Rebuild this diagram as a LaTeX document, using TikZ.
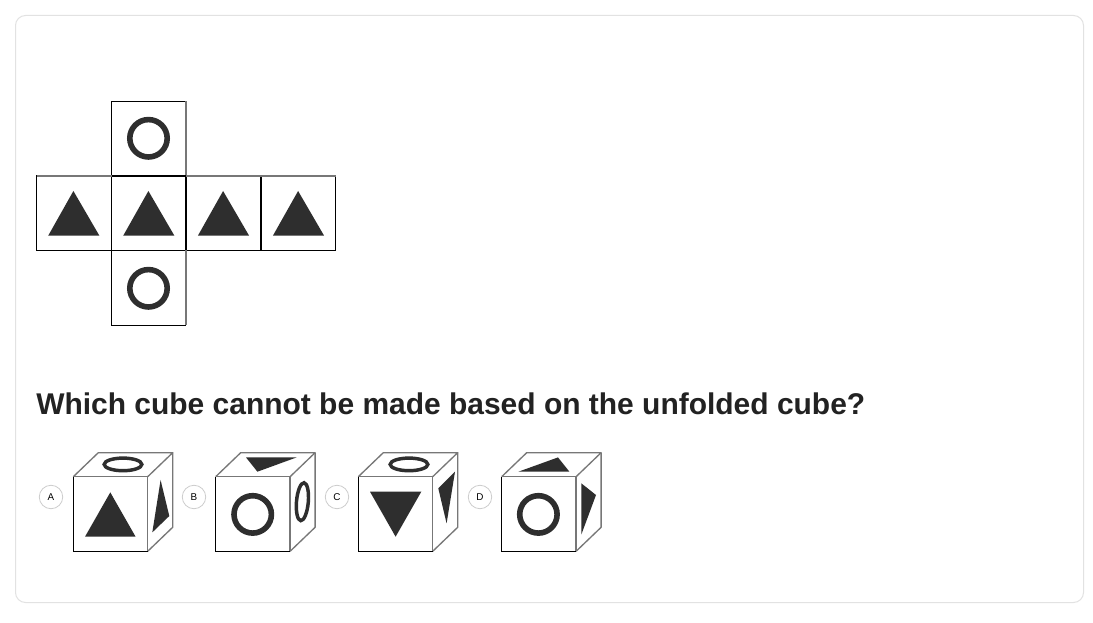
\documentclass[tikz,border=0pt]{standalone}
\usepackage{fontspec}
\setmainfont{Liberation Sans}
\definecolor{ink}{HTML}{2E2E2E}
\definecolor{edgegray}{HTML}{777777}
\definecolor{cardline}{HTML}{E2E2E2}
\definecolor{badge}{HTML}{CCCCCC}
\definecolor{titleink}{HTML}{222222}
\tikzset{
  card/.style={draw=cardline,line width=0.75pt,rounded corners=7.5pt,fill=white},
  netface/.style={draw=black,line width=0.8pt,fill=none},
  softline/.style={draw=edgegray,line width=1pt},
  solid shape/.style={fill=ink,draw=none},
  ring/.style={draw=ink,line width=4.2pt,fill=none},
  thin ring/.style={draw=ink,line width=2.6pt,fill=none},
  frontface/.style={draw=black,line width=0.9pt,fill=white},
  badgenode/.style={circle,draw=badge,line width=0.6pt,fill=white,minimum size=17.6pt,inner sep=0pt,font=\fontsize{7.4pt}{8pt}\selectfont,text=black},
  titletext/.style={anchor=base west,inner sep=0pt,text=titleink,font=\fontsize{22.47pt}{26pt}\selectfont\bfseries}
}
\newcommand{\cubeframe}{%
  \draw[softline,line join=round] (0,0) -- (25,-24) -- (99.4,-24) -- (74.4,0);
  \draw[softline,line join=round] (99.4,-24) -- (99.4,50.6) -- (74.4,74.6);
  \draw[softline] (74.4,0) -- (74.4,74.6);
  \draw[frontface,fill=none] (74.4,74.6) -- (0,74.6) -- (0,0);
  \draw[draw=edgegray,line width=1.1pt] (0,0) -- (74.4,0);
}
\begin{document}
\begin{tikzpicture}[x=0.75pt,y=-0.75pt]
\useasboundingbox (0,0) rectangle (1093,623);
\fill[white] (0,0) rectangle (1093,623);
\draw[card] (15.5,15.5) rectangle (1083.5,602.5);

% unfolded cube
\draw[netface] (111.5,101.5) -- (111.5,176) (111.5,101.5) -- (186,101.5);
\draw[softline] (186,101.5) -- (186,176);
\draw[netface] (36.5,176) rectangle (111.5,250.5);
\draw[netface] (111.5,176) rectangle (186,250.5);
\draw[netface] (186,250.5) -- (261,250.5);
\draw[netface] (261,176) -- (261,250.5) -- (335.5,250.5) -- (335.5,176);
\draw[netface] (111.5,250.5) -- (111.5,325.5) -- (186,325.5);
\draw[softline] (186,250.5) -- (186,325.5);
\draw[softline] (36.5,176) -- (111.5,176) (186,176) -- (335.5,176);
\foreach \ox in {0,75,149.7,224.7}{
  \fill[solid shape] (73.4+\ox,191) -- (99.4+\ox,235.7) -- (48.2+\ox,235.7) -- cycle;
}
\draw[ring] (148.5,138.3) circle[radius=18.7];
\draw[ring] (148.5,288.3) circle[radius=18.7];

% question
\node[titletext] (question) at (36,414.5) {Which cube cannot be made based on the unfolded cube?};

% option badges
\node[badgenode] (optA) at (51,497) {A};
\node[badgenode] (optB) at (194,497) {B};
\node[badgenode] (optC) at (337,497) {C};
\node[badgenode] (optD) at (480,497) {D};

% cube A
\begin{scope}[shift={(73.3,476.7)}]
  \cubeframe
  \draw[thin ring] (49.7,-12.3) ellipse[x radius=18.8,y radius=6.3];
  \fill[solid shape] (37,15.7) -- (62.3,60) -- (11.7,60) -- cycle;
  \fill[solid shape] (87.3,3.3) -- (96,39.3) -- (79,55.7) -- cycle;
\end{scope}

% cube B
\begin{scope}[shift={(215.7,476.7)}]
  \cubeframe
  \fill[solid shape] (30.3,-19.3) -- (81,-19.3) -- (41.7,-5) -- cycle;
  \draw[ring] (37,37.7) circle[radius=18.7];
  \draw[thin ring,rotate around={-5:(86.7,25)}] (86.7,25) ellipse[x radius=5.9,y radius=19];
\end{scope}

% cube C
\begin{scope}[shift={(358.3,476.7)}]
  \cubeframe
  \draw[thin ring] (50.7,-12.3) ellipse[x radius=18.8,y radius=6.3];
  \fill[solid shape] (11.7,15) -- (63,15) -- (37.3,60) -- cycle;
  \fill[solid shape] (96.7,-5) -- (80,11.7) -- (88.3,46.7) -- cycle;
\end{scope}

% cube D
\begin{scope}[shift={(501.7,476.7)}]
  \cubeframe
  \fill[solid shape] (16.7,-5) -- (67.7,-5) -- (56.3,-19.3) -- cycle;
  \draw[ring] (36.7,37.7) circle[radius=18.7];
  \fill[solid shape] (79.7,6.7) -- (94.3,18.3) -- (79.7,57.7) -- cycle;
\end{scope}
\end{tikzpicture}
\end{document}
